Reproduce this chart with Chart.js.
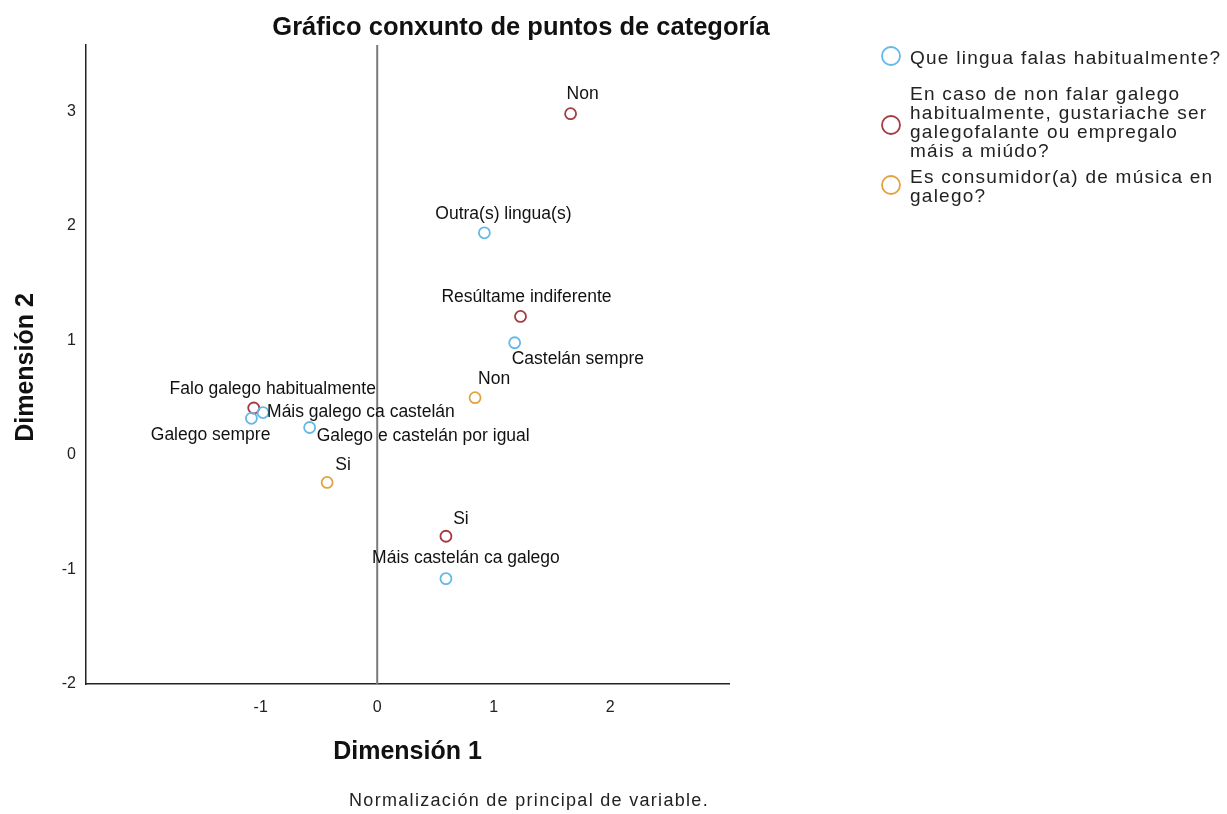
<!DOCTYPE html>
<html>
<head>
<meta charset="utf-8">
<script src="https://cdn.jsdelivr.net/npm/chart.js@4.4.0/dist/chart.umd.min.js"></script>
<style>
  html, body { margin: 0; padding: 0; background: #fff; }
  #wrap { width: 1227px; height: 814px; position: relative; }
</style>
</head>
<body>
<div id="wrap"><canvas id="chart"></canvas></div>
<script>
const chartTitle = 'Gráfico conxunto de puntos de categoría';
const xTitle = 'Dimensión 1';
const yTitle = 'Dimensión 2';
const footNote = 'Normalización de principal de variable.';

const seriesNames = [
  'Que lingua falas habitualmente?',
  'En caso de non falar galego habitualmente, gustariache ser galegofalante ou empregalo máis a miúdo?',
  'Es consumidor(a) de música en galego?'
];
// legend text wrapped as in the picture
const legendLines = [
  ['Que lingua falas habitualmente?'],
  ['En caso de non falar galego', 'habitualmente, gustariache ser', 'galegofalante ou empregalo', 'máis a miúdo?'],
  ['Es consumidor(a) de música en', 'galego?']
];
const seriesColors = ['#64b9e8', '#a63a42', '#e3a240'];

const linguaCats = ['Galego sempre', 'Máis galego ca castelán', 'Galego e castelán por igual',
  'Máis castelán ca galego', 'Castelán sempre', 'Outra(s) lingua(s)'];
const linguaX = [-1.08, -0.98, -0.58, 0.59, 1.18, 0.92];
const linguaY = [0.32, 0.37, 0.24, -1.08, 0.98, 1.94];

const gustaCats = ['Falo galego habitualmente', 'Si', 'Non', 'Resúltame indiferente'];
const gustaX = [-1.06, 0.59, 1.66, 1.23];
const gustaY = [0.41, -0.71, 2.98, 1.21];

const musicaCats = ['Si', 'Non'];
const musicaX = [-0.43, 0.84];
const musicaY = [-0.24, 0.50];

const xTicks = [-1, 0, 1, 2];
const yTicks = [-2, -1, 0, 1, 2, 3];

// where each point label sits: [align, dx, dy] in px from the point
const linguaPlace = [['right', 19, 17], ['left', 4, 0], ['left', 7, 9], ['center', 20, -20], ['left', -3, 16], ['center', 19, -19]];
const gustaPlace = [['center', 19, -19], ['center', 15, -17], ['center', 12, -20], ['center', 6, -19]];
const musicaPlace = [['center', 16, -17], ['center', 19, -19]];

function toPoints(xs, ys) {
  return xs.map((x, i) => ({ x: x, y: ys[i] }));
}

const FONT = '"Liberation Sans", Arial, sans-serif';

const extras = {
  id: 'extras',
  beforeDatasetsDraw(chart) {
    const ctx = chart.ctx;
    const a = chart.chartArea;
    const x0 = chart.scales.x.getPixelForValue(0);
    ctx.save();
    ctx.strokeStyle = '#7a7a7a';
    ctx.lineWidth = 2;
    ctx.beginPath();
    ctx.moveTo(x0, a.top);
    ctx.lineTo(x0, a.bottom);
    ctx.stroke();
    ctx.restore();
  },
  afterDatasetsDraw(chart) {
    const ctx = chart.ctx;
    const a = chart.chartArea;
    ctx.save();
    ctx.fillStyle = '#111';

    // point labels
    ctx.font = '17.5px ' + FONT;
    ctx.textBaseline = 'middle';
    chart.data.datasets.forEach((ds, di) => {
      const meta = chart.getDatasetMeta(di);
      meta.data.forEach((pt, i) => {
        const p = ds.place[i];
        ctx.textAlign = p[0];
        ctx.fillText(ds.cats[i], pt.x + p[1], pt.y + p[2]);
      });
    });

    // title
    ctx.textAlign = 'center';
    ctx.font = 'bold 25.5px ' + FONT;
    ctx.fillText(chartTitle, 521, 28);

    // axis titles
    ctx.font = 'bold 25px ' + FONT;
    ctx.fillText(xTitle, (a.left + a.right) / 2, 752);
    ctx.save();
    ctx.translate(26, (a.top + a.bottom) / 2 + 3);
    ctx.rotate(-Math.PI / 2);
    ctx.fillText(yTitle, 0, 0);
    ctx.restore();

    // footnote
    ctx.fillStyle = '#222';
    ctx.font = '18px ' + FONT;
    ctx.letterSpacing = '1.3px';
    ctx.fillText(footNote, 529, 801);

    // legend
    const rows = [[59], [95, 114, 133, 152], [178, 197]];
    const marks = [56, 125, 185];
    ctx.textAlign = 'left';
    ctx.font = '19px ' + FONT;
    ctx.letterSpacing = '1.25px';
    legendLines.forEach((lines, k) => {
      ctx.strokeStyle = seriesColors[k];
      ctx.lineWidth = 1.8;
      ctx.beginPath();
      ctx.arc(891, marks[k], 9, 0, Math.PI * 2);
      ctx.stroke();
      lines.forEach((t, j) => ctx.fillText(t, 910, rows[k][j]));
    });
    ctx.letterSpacing = '0px';
    ctx.restore();
  }
};

new Chart(document.getElementById('chart'), {
  type: 'scatter',
  data: {
    datasets: [
      { label: seriesNames[0], data: toPoints(linguaX, linguaY), cats: linguaCats, place: linguaPlace },
      { label: seriesNames[1], data: toPoints(gustaX, gustaY), cats: gustaCats, place: gustaPlace },
      { label: seriesNames[2], data: toPoints(musicaX, musicaY), cats: musicaCats, place: musicaPlace }
    ].map((ds, i) => Object.assign(ds, {
      borderColor: seriesColors[i],
      backgroundColor: 'rgba(255,255,255,0)',
      pointRadius: 5.5,
      pointHoverRadius: 5.5,
      borderWidth: 1.8
    }))
  },
  options: {
    responsive: true,
    maintainAspectRatio: false,
    animation: false,
    events: [],
    layout: { padding: { left: 0, top: 45, right: 498, bottom: 0 } },
    plugins: { legend: { display: false }, tooltip: { enabled: false } },
    scales: {
      x: {
        type: 'linear',
        min: -2.5,
        max: 3.02,
        afterBuildTicks: s => { s.ticks = xTicks.map(v => ({ value: v })); },
        afterFit: s => { s.height = 130; },
        grid: { display: false, drawTicks: false },
        border: { display: true, color: '#222', width: 1.5 },
        ticks: { padding: 14, color: '#222', font: { family: FONT, size: 16 } }
      },
      y: {
        type: 'linear',
        min: -2,
        max: 3.58,
        afterBuildTicks: s => { s.ticks = yTicks.map(v => ({ value: v })); },
        afterFit: s => { s.width = 86; },
        grid: { display: false, drawTicks: false },
        border: { display: true, color: '#222', width: 1.5 },
        ticks: { padding: 10, color: '#222', font: { family: FONT, size: 16 } }
      }
    }
  },
  plugins: [extras]
});
</script>
</body>
</html>
